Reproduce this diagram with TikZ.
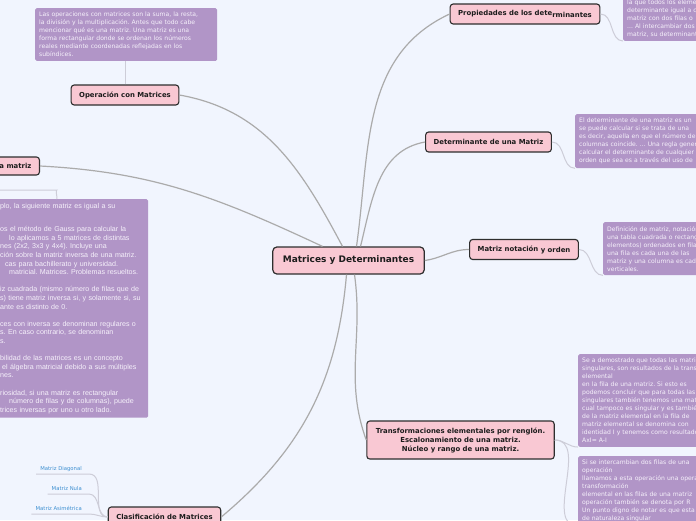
\documentclass[tikz,border=0pt]{standalone}
\usepackage{fontspec}
\setmainfont{DejaVu Sans}
\newfontfamily\arialish{Liberation Sans}
\frenchspacing
\definecolor{ink}{HTML}{1C1C1C}
\definecolor{rim}{HTML}{2E2E2E}
\definecolor{blush}{HTML}{F9C8D3}
\definecolor{lilac}{HTML}{B195C7}
\definecolor{paper}{HTML}{F1F5FE}
\definecolor{twig}{HTML}{ABABAB}
\definecolor{thread}{HTML}{CDCDD8}
\definecolor{sky}{HTML}{3D8FD1}
\definecolor{memotext}{HTML}{F6F1FB}
\tikzset{
  hub/.style={
    draw=rim,
    line width=1.2pt,
    rounded corners=4pt,
    fill=blush,
    text=ink,
    minimum width=151pt,
    minimum height=27pt,
    inner xsep=10pt,
    font=\bfseries\fontsize{9}{11}\selectfont
  },
  topic/.style={
    draw=rim,
    line width=1.1pt,
    rounded corners=3pt,
    fill=blush,
    text=ink,
    minimum height=20pt,
    inner xsep=8pt,
    align=center,
    font=\bfseries\fontsize{6.9}{9}\selectfont
  },
  memo/.style={
    fill=lilac,
    rounded corners=1.5pt,
    text=memotext,
    align=left,
    inner xsep=4pt,
    inner ysep=4pt,
    text width=220pt,
    font=\frenchspacing\fontsize{6.1}{8}\selectfont
  },
  leaf/.style={
    text=sky,
    inner xsep=4pt,
    inner ysep=2pt,
    text depth=1.2pt,
    font=\fontsize{5.3}{6.5}\selectfont
  },
  branch/.style={draw=twig, line width=1.2pt},
  memolink/.style={draw=thread, line width=1pt}
}

\begin{document}
\begin{tikzpicture}[x=1pt,y=1pt]
  \useasboundingbox (0,0) rectangle (696,-520);
  \fill[paper] (0,0) rectangle (696,-520);
  \clip (0,0) rectangle (696,-520);

  \node[hub] (centro) at (348.5,-260.5) {Matrices y Determinantes};

  \node[topic] (operacion) at (125,-95) {Operación con Matrices};
  \node[memo, text width=174pt, anchor=north west] (opnota) at (35,-8)
    {Las operaciones con matrices son la suma, la resta,\\
     la división y la multiplicación. Antes que todo cabe\\
     mencionar qué es una matriz. Una matriz es una\\
     forma rectangular donde se ordenan los números\\
     reales mediante coordenadas reflejadas en los\\
     subíndices.};

  \node[topic] (propiedades) at (525,-14)
    {Propiedades de los dete\raisebox{-1.2pt}{rminantes}};
  \node[memo, anchor=south west] (propnota) at (623,-41)
    {la que todos los elementos\\
     determinante igual a cero\\
     matriz con dos filas o\\
     ... Al intercambiar dos\\
     matriz, su determinante};

  \node[topic] (determinante) at (488.5,-142) {Determinante de una Matriz};
  \node[memo, anchor=north west] (detnota) at (575,-114)
    {El determinante de una matriz es un\\
     se puede calcular si se trata de una\\
     es decir, aquella en que el número de\\
     columnas coincide. ... Una regla general\\
     calcular el determinante de cualquier\\
     orden que sea es a través del uso de};

  \node[topic] (notacion) at (524,-249.5)
    {Matriz notación \raisebox{-1pt}{y orden}};
  \node[memo, anchor=north west] (notnota) at (603,-222)
    {Definición de matriz, notación\\
     una tabla cuadrada o rectangular\\
     elementos) ordenados en filas\\
     una fila es cada una de las\\
     matriz y una columna es cada\\
     verticales.};

  \node[topic, minimum height=38pt, inner xsep=9pt] (transf) at (460.5,-440)
    {Transformaciones elementales por renglón.\\
     Escalonamiento de una matriz.\\
     Núcleo y rango de una matriz.};
  \node[memo, anchor=north west] (transfA) at (578,-354)
    {Se a demostrado que todas las matrices\\
     singulares, son resultados de la transformación\\
     elemental\\
     en la fila de una matriz. Si esto es\\
     podemos concluir que para todas las\\
     singulares también tenemos una matriz\\
     cual tampoco  es singular y es también\\
     de la matriz elemental en la fila de\\
     matriz elemental se  denomina con\\
     identidad I y tenemos como resultado\\
     AxI= A-I};
  \node[memo, anchor=north west] (transfB) at (578,-456)
    {Si se intercambian dos filas de una\\
     operación\\
     llamamos a esta operación  una operación\\
     transformación\\
     elemental en las filas de una matriz\\
     operación también se denota por R\\
     Un punto digno de notar es que esta\\
     de naturaleza singular};

  \node[topic] (clasif) at (164.5,-517) {Clasificación de Matrices};
  \node[leaf, anchor=south east] (diagonal) at (86,-474) {Matriz Diagonal};
  \node[leaf, anchor=south east] (nula) at (86,-494) {Matriz Nula};
  \node[leaf, anchor=south east] (asimetrica) at (86,-514) {Matriz Asimétrica};

  \node[topic, minimum height=18pt, anchor=east] (inversa) at (40,-166)
    {Inversa de una matriz};
  \node[memo, anchor=north west, text width=146pt, inner xsep=2pt,
        font=\arialish\frenchspacing\fontsize{7.1}{8.6}\selectfont] (invnota) at (-2,-199)
    {plo, la siguiente matriz es igual a su\\[14.7pt]
     os el método de Gauss para calcular la\\
     \hspace*{9pt}lo aplicamos a 5 matrices de distintas\\
     nes (2x2, 3x3 y 4x4). Incluye una\\
     ción sobre la matriz inversa de una matriz.\\
     \hspace*{5pt}cas para bachillerato y universidad.\\
     \hspace*{9pt}matricial. Matrices. Problemas resueltos.\\[8.6pt]
     iz cuadrada (mismo número de filas que de\\
     s) tiene matriz inversa si, y solamente si, su\\
     ante es distinto de 0.\\[8.6pt]
     ces con inversa se denominan regulares o\\
     s. En caso contrario, se denominan\\
     s.\\[8.6pt]
     bilidad de las matrices es un concepto\\
     \hspace*{2pt}el álgebra matricial debido a sus múltiples\\
     nes.\\[8.6pt]
     riosidad, si una matriz es rectangular\\
     \hspace*{9pt}número de filas y de columnas), puede\\
     trices inversas por uno u otro lado.};
  \coordinate (invpunto) at (57,-199);

  \draw[branch] (inversa.east) to[out=-3,in=155] ([xshift=-26pt]centro.north);
  \draw[branch] (operacion.east) to[out=-10,in=118] ([xshift=-6pt]centro.north);
  \draw[branch] (propiedades.west) to[out=205,in=82] ([xshift=8pt]centro.north);
  \draw[branch] (determinante.west) to[out=190,in=76] ([xshift=12pt]centro.north);
  \draw[branch] (centro.east) to[out=8,in=180] (notacion.west);
  \draw[branch] ([xshift=6pt]centro.south) to[out=-82,in=110] (transf.west);
  \draw[branch] ([xshift=-2pt]centro.south) to[out=-95,in=40] (clasif.east);

  \draw[memolink] (operacion.north) -- (operacion.north |- opnota.south);
  \draw[memolink] (propiedades.east) to[out=0,in=180] (propnota.south west);
  \draw[memolink] (determinante.east) to[out=0,in=180] (detnota.south west);
  \draw[memolink] (notacion.east) to[out=0,in=180] (notnota.south west);
  \draw[memolink] (transf.east) to[out=0,in=180] (transfA.south west);
  \draw[memolink] (transf.east) to[out=0,in=180] (transfB.south west);
  \draw[memolink, rounded corners=6pt] (inversa.south)
    |- ([xshift=-6pt,yshift=9pt]invpunto) to[out=0,in=90] (invpunto);
  \foreach \hoja in {diagonal,nula,asimetrica}
    \draw[memolink] (clasif.west) to[out=180,in=0] ([xshift=3pt]\hoja.south east)
      -- (\hoja.south west);
\end{tikzpicture}
\end{document}
